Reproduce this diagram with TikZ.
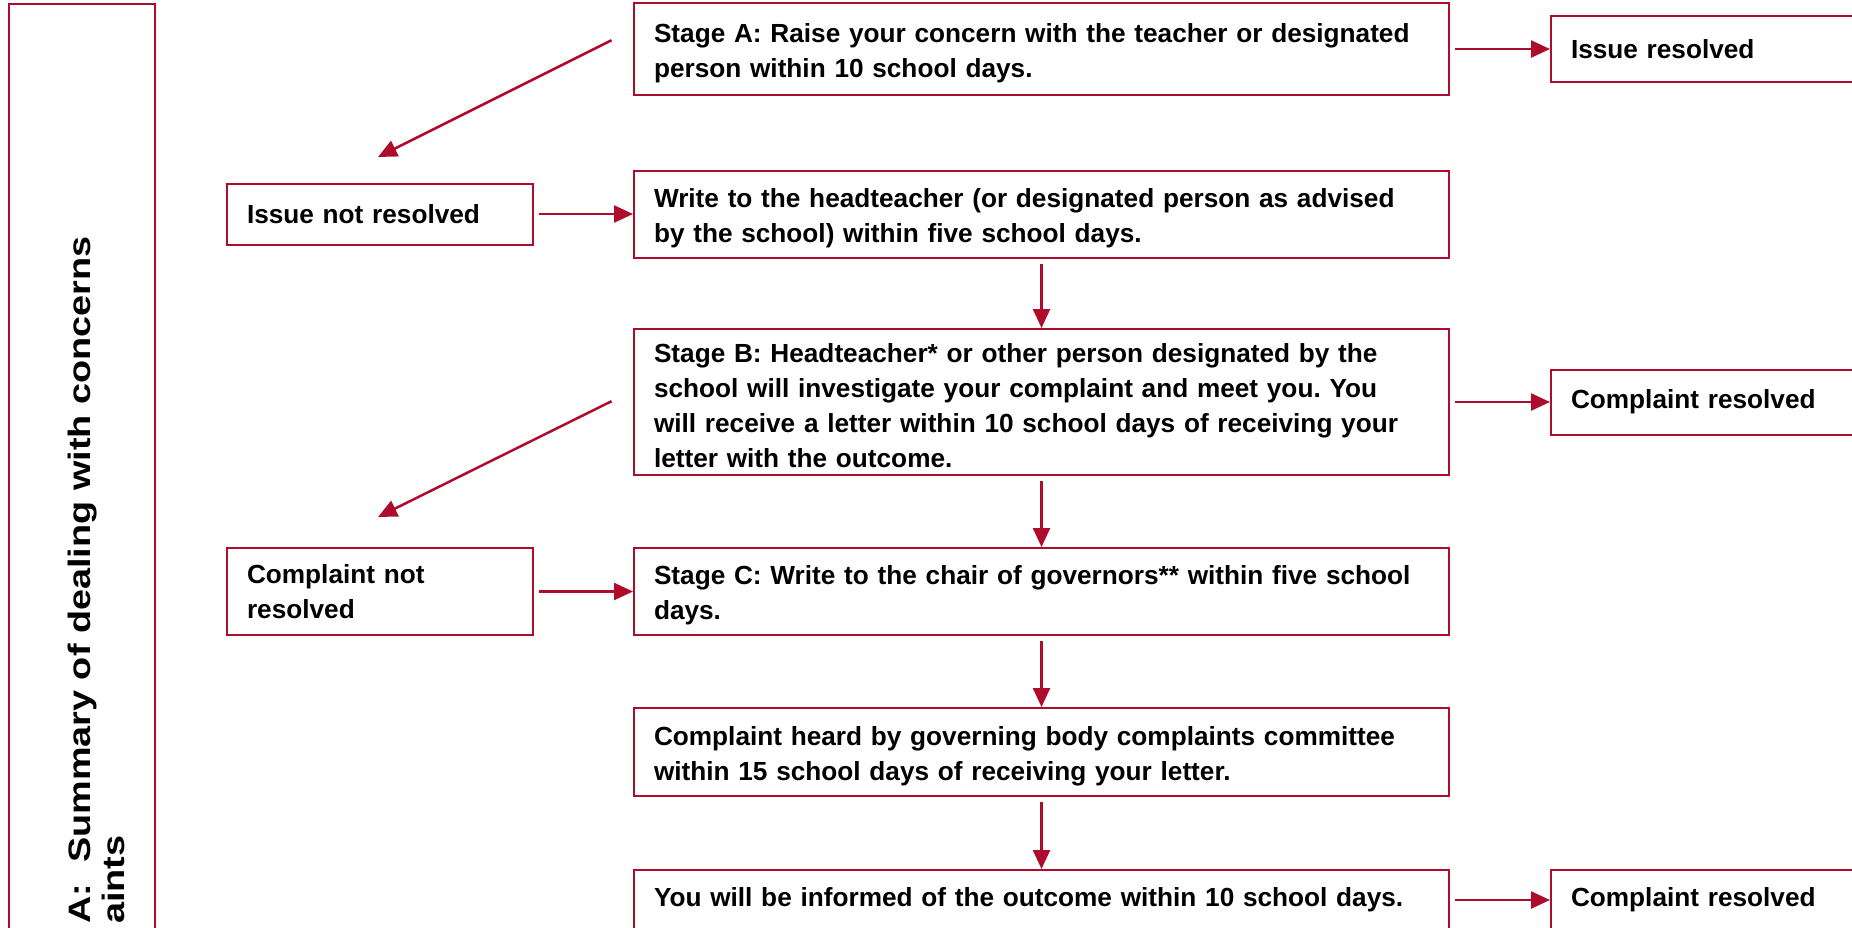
\documentclass[tikz,border=0pt]{standalone}
\usepackage{fontspec}
\setmainfont{Liberation Sans}
\newfontfamily\titlefont{Liberation Sans}[FakeStretch=1.22]
\usetikzlibrary{arrows.meta}
\definecolor{boxred}{RGB}{174,12,44}
\tikzset{
	textbox/.style={rectangle,draw=boxred,line width=2pt,text width=775pt,align=left,inner xsep=20pt,inner ysep=0pt,
		font=\bfseries\fontsize{26.2}{35}\selectfont\frenchspacing},
	stagebox/.style={textbox,execute at begin node={\rule{0pt}{27pt}}},
	sidebox/.style={textbox,text width=266pt},
	resbox/.style={textbox,text width=280pt},
	link/.style={color=boxred,line width=2.5pt,shorten <=5pt},
}
\begin{document}
\begin{tikzpicture}[x=1pt,y=-1pt,>={Triangle[length=19pt,width=17pt]}]
		\useasboundingbox (0,0) rectangle (1852,927);
		\clip (0,0) rectangle (1852,927);

		\node at (82,   504) [draw=boxred,line width=2pt,minimum width=146pt,minimum height=1000pt] (title_box) {};
		\node at (68,   924) [rotate=90,anchor=north west,align=left,inner sep=0pt,font=\titlefont\bfseries\fontsize{31}{34}\selectfont] (title) {A:\ \ Summary of dealing with concerns\\aints};

		\node at (1041.5,  49) [stagebox,minimum height=92pt]  (stage_a)                {Stage A: Raise your concern with the teacher or designated\\person within 10 school days.};
		\node at (1711,    49) [resbox,minimum height=66pt]    (issue_resolved)         {Issue resolved};
		\node at (380,    214) [sidebox,minimum height=61pt]   (issue_not_resolved)     {Issue not resolved};
		\node at (1041.5, 214) [stagebox,minimum height=87pt]  (write_head)             {Write to the headteacher (or designated person as advised\\by the school) within five school days.};
		\node at (1041.5, 402) [stagebox,minimum height=146pt] (stage_b)                {Stage B: Headteacher* or other person designated by the\\school will investigate your complaint and meet you. You\\will receive a letter within 10 school days of receiving your\\letter with the outcome.};
		\node at (1711,   402) [resbox,minimum height=65pt]    (complaint_resolved_b)   {Complaint resolved};
		\node at (380,  591.5) [sidebox,minimum height=87pt]   (complaint_not_resolved) {Complaint not\\resolved};
		\node at (1041.5,591.5)[stagebox,minimum height=87pt]  (stage_c)                {Stage C: Write to the chair of governors** within five school\\days.};
		\node at (1041.5, 752) [stagebox,minimum height=88pt]  (committee)              {Complaint heard by governing body complaints committee\\within 15 school days of receiving your letter.};
		\node at (1041.5, 900) [textbox,minimum height=60pt]   (outcome)                {You will be informed of the outcome within 10 school days.};
		\node at (1711,   900) [resbox,minimum height=60pt]    (complaint_resolved_c)   {Complaint resolved};

		\coordinate (stage_a_out)  at (616,  38);
		\coordinate (issue_in)     at (378, 157);
		\coordinate (stage_b_out)  at (616, 399);
		\coordinate (complaint_in) at (378, 517);

		\draw[link,->] (stage_a)                edge node {} (issue_resolved);
		\draw[link,->] (stage_a_out) -- (issue_in);
		\draw[link,->] (issue_not_resolved)     edge node {} (write_head);
		\draw[link,->] (write_head)             edge node {} (stage_b);
		\draw[link,->] (stage_b)                edge node {} (complaint_resolved_b);
		\draw[link,->] (stage_b_out) -- (complaint_in);
		\draw[link,->] (stage_b)                edge node {} (stage_c);
		\draw[link,->] (complaint_not_resolved) edge node {} (stage_c);
		\draw[link,->] (stage_c)                edge node {} (committee);
		\draw[link,->] (committee)              edge node {} (outcome);
		\draw[link,->] (outcome)                edge node {} (complaint_resolved_c);
	\end{tikzpicture}
\end{document}
